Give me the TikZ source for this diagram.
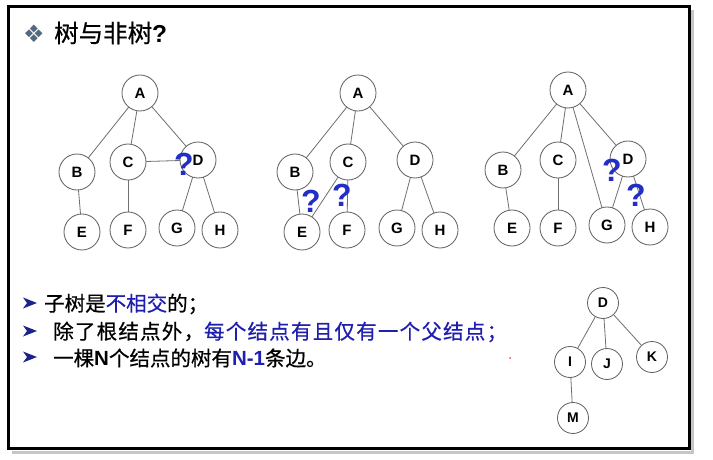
\documentclass[tikz,border=0pt]{standalone}
\usepackage{fontspec}
\setmainfont{Liberation Sans}
\newfontfamily\cjk{Noto Sans CJK SC}[FakeBold=0.6]
\newfontfamily\cjkwide{Noto Sans CJK SC}[FakeBold=0.6,LetterSpace=6]
\newfontfamily\dejavu{DejaVu Sans}
\definecolor{txtblue}{RGB}{30,30,175}
\definecolor{qblue}{RGB}{35,45,200}
\definecolor{nodegray}{RGB}{95,95,95}
\definecolor{bulletblue}{RGB}{25,35,140}
\definecolor{diamondgray}{RGB}{85,105,125}
\tikzset{
  tnode/.style={circle,draw=nodegray,line width=0.8pt,fill=white,minimum size=36pt,inner sep=0pt,outer sep=0pt,font=\fontsize{15}{15}\selectfont\bfseries},
  snode/.style={tnode,minimum size=31pt,font=\fontsize{14}{14}\selectfont\bfseries},
  edge/.style={draw=nodegray!90,line width=0.8pt},
  qmark/.style={text=qblue,font=\fontsize{32}{32}\selectfont\bfseries,inner sep=0pt},
  line/.style={anchor=west,inner sep=0pt,font=\cjk\fontsize{20.5}{20.5}\selectfont},
  bulletarrow/.style={fill=bulletblue}
}
\begin{document}
\begin{tikzpicture}[x=1pt,y=-1pt]
\useasboundingbox (0,0) rectangle (713,460);
\fill[white] (0,0) rectangle (713,460);
% frame shadow and frame
\draw[gray!45,line width=3pt] (12,452) -- (692.5,452) -- (692.5,10);
\draw[black,line width=3pt] (8.5,7) rectangle (689,448.5);

% title
\node[anchor=center,inner sep=0pt,text=diamondgray,font=\dejavu\fontsize{24}{24}\selectfont] (dia) at (34,34) {❖};
\node[anchor=west,inner sep=0pt,font=\cjk\fontsize{24.5}{24.5}\selectfont] (title) at (54,33) {树与非树\textbf{\fontspec{Liberation Sans}?}};

% tree 1
\node[tnode] (a1) at (140,93) {A};
\node[tnode] (b1) at (77,172) {B};
\node[tnode] (c1) at (128,162) {C};
\node[tnode] (d1) at (198,160) {D};
\node[tnode] (e1) at (82,232) {E};
\node[tnode] (f1) at (128,230) {F};
\node[tnode] (g1) at (177,228) {G};
\node[tnode] (h1) at (220,230) {H};
\draw[edge] (a1) -- (b1);
\draw[edge] (a1) -- (c1);
\draw[edge] (a1) -- (d1);
\draw[edge] (b1) -- (e1);
\draw[edge] (c1) -- (f1);
\draw[edge] (c1) -- (d1);
\draw[edge] (d1) -- (g1);
\draw[edge] (d1) -- (h1);
\node[qmark] (q1) at (184,164) {?};

% tree 2
\node[tnode] (a2) at (358,93) {A};
\node[tnode] (b2) at (295,172) {B};
\node[tnode] (c2) at (348,162) {C};
\node[tnode] (d2) at (415,160) {D};
\node[tnode] (e2) at (302,232) {E};
\node[tnode] (f2) at (347,230) {F};
\node[tnode] (g2) at (397,228) {G};
\node[tnode] (h2) at (440,230) {H};
\draw[edge] (a2) -- (b2);
\draw[edge] (a2) -- (c2);
\draw[edge] (a2) -- (d2);
\draw[edge] (b2) -- (e2);
\draw[edge] (c2) -- (e2);
\draw[edge] (c2) -- (f2);
\draw[edge] (d2) -- (g2);
\draw[edge] (d2) -- (h2);
\node[qmark] (q2) at (311,201) {?};
\node[qmark] (q3) at (342,195) {?};

% tree 3
\node[tnode] (a3) at (568,90) {A};
\node[tnode] (b3) at (503,170) {B};
\node[tnode] (c3) at (558,160) {C};
\node[tnode] (d3) at (628,159) {D};
\node[tnode] (e3) at (512,228) {E};
\node[tnode] (f3) at (558,228) {F};
\node[tnode] (g3) at (607,225) {G};
\node[tnode] (h3) at (650,227) {H};
\draw[edge] (a3) -- (b3);
\draw[edge] (a3) -- (c3);
\draw[edge] (a3) -- (g3);
\draw[edge] (a3) -- (d3);
\draw[edge] (b3) -- (e3);
\draw[edge] (c3) -- (f3);
\draw[edge] (d3) -- (g3);
\draw[edge] (d3) -- (h3);
\node[qmark] (q4) at (612,170) {?};
\node[qmark] (q5) at (636,195) {?};

% small tree
\node[snode] (d4) at (603,303) {D};
\node[snode] (i4) at (570,362) {I};
\node[snode] (j4) at (607,364) {J};
\node[snode] (k4) at (652,357) {K};
\node[snode] (m4) at (573,418) {M};
\draw[edge] (d4) -- (i4);
\draw[edge] (d4) -- (j4);
\draw[edge] (d4) -- (k4);
\draw[edge] (i4) -- (m4);

% bullets
\foreach \yy in {303,331,357}{
  \fill[bulletarrow] (23,\yy-5.5) -- (37,\yy) -- (23,\yy+5.5) -- (27,\yy) -- cycle;
}
\node[line] (l1) at (44,304) {子树是\textcolor{txtblue}{不相交}的；};
\node[line,font=\cjkwide\fontsize{20.5}{20.5}\selectfont] (l2) at (53,332) {除了根结点外，\textcolor{txtblue}{每个结点有且仅有一个父结点；}};
\node[line] (l3) at (53,358) {一棵{\fontspec{Liberation Sans}\bfseries N}个结点的树有\textcolor{txtblue}{\fontspec{Liberation Sans}\bfseries N-1}条边。};
\fill[red!75] (510,358) circle (1pt);
\end{tikzpicture}
\end{document}
